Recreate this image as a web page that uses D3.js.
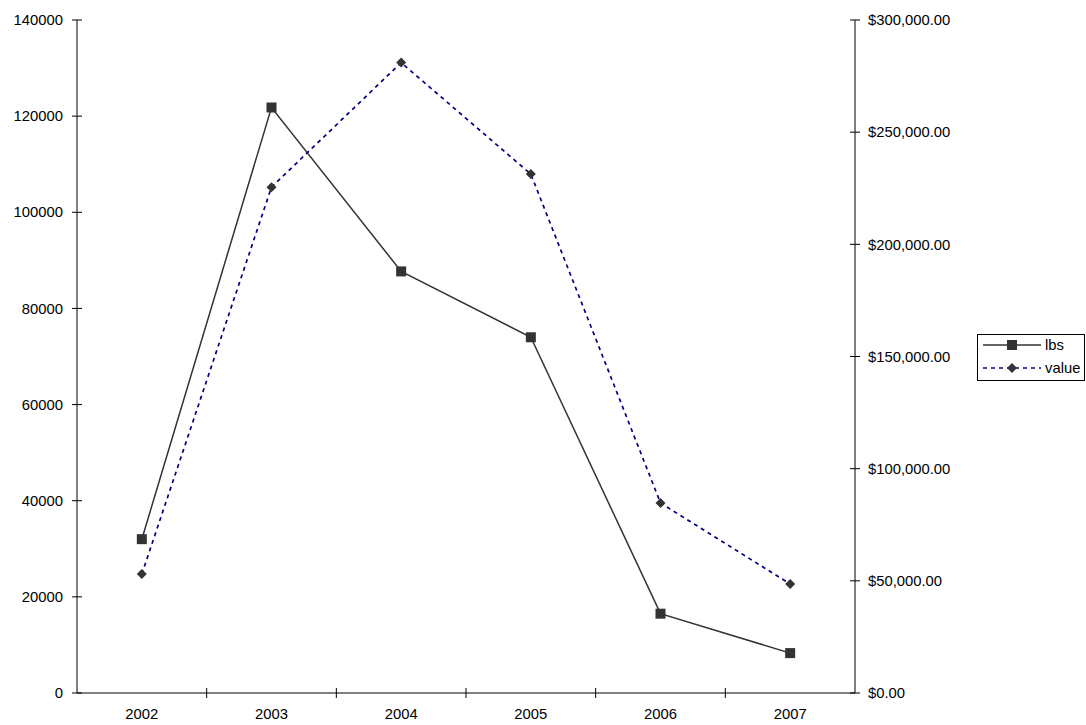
<!DOCTYPE html>
<html><head><meta charset="utf-8">
<script src="https://cdn.jsdelivr.net/npm/d3@7"></script>
<style>body{margin:0;background:#fff}svg{display:block}text{font-family:"Liberation Sans",Arial,sans-serif;font-size:14.8px;fill:#000}</style>
</head><body>
<svg id="c" width="1086" height="725"></svg>
<script>
const years = ["2002","2003","2004","2005","2006","2007"];
const lbs = [32000, 121800, 87700, 74000, 16500, 8300];
const value = [53000, 225500, 281000, 231300, 84700, 48600];
const leftTicks = [0,20000,40000,60000,80000,100000,120000,140000];
const rightTicks = [0,50000,100000,150000,200000,250000,300000];

const svg = d3.select("#c");
const L = 77, R = 855, T = 20, B = 693;
const x = d3.scaleBand().domain(years).range([L, R]);
const yL = d3.scaleLinear().domain([0,140000]).range([B, T]);
const yR = d3.scaleLinear().domain([0,300000]).range([B, T]);
const cx = d => x(d) + x.bandwidth()/2;

// left axis
const gl = svg.append("g").attr("transform",`translate(${L},0)`);
gl.append("line").attr("y1",T).attr("y2",B).attr("stroke","#000");
leftTicks.forEach(t=>{
  gl.append("line").attr("x1",-5).attr("x2",5).attr("y1",yL(t)).attr("y2",yL(t)).attr("stroke","#000");
  gl.append("text").attr("x",-14).attr("y",yL(t)).attr("dy","0.35em").attr("text-anchor","end").text(t);
});
// right axis
const gr = svg.append("g").attr("transform",`translate(${R},0)`);
gr.append("line").attr("y1",T).attr("y2",B).attr("stroke","#000");
const fmt = d3.format("$,.2f");
rightTicks.forEach(t=>{
  gr.append("line").attr("x1",-5).attr("x2",5).attr("y1",yR(t)).attr("y2",yR(t)).attr("stroke","#000");
  gr.append("text").attr("x",13).attr("y",yR(t)).attr("dy","0.35em").attr("text-anchor","start").text(fmt(t));
});
// bottom axis
const gb = svg.append("g");
gb.append("line").attr("x1",L).attr("x2",R).attr("y1",B).attr("y2",B).attr("stroke","#000");
years.forEach((yv,i)=>{
  if(i>0) gb.append("line").attr("x1",x(yv)).attr("x2",x(yv)).attr("y1",B-5).attr("y2",B+5).attr("stroke","#000");
  gb.append("text").attr("x",cx(yv)).attr("y",B+26).attr("text-anchor","middle").text(yv);
});

// lbs line
const lineL = d3.line().x((d,i)=>cx(years[i])).y(d=>yL(d));
svg.append("path").attr("d",lineL(lbs)).attr("fill","none").attr("stroke","#333").attr("stroke-width",1.5);
svg.selectAll(".sq").data(lbs).join("rect")
  .attr("x",(d,i)=>cx(years[i])-5).attr("y",d=>yL(d)-5).attr("width",10).attr("height",10).attr("fill","#333");

// value line
const lineR = d3.line().x((d,i)=>cx(years[i])).y(d=>yR(d));
svg.append("path").attr("d",lineR(value)).attr("fill","none").attr("stroke","#000080").attr("stroke-width",1.7).attr("stroke-dasharray","4,4");
const diaPath = "M0,-5L5,0L0,5L-5,0Z";
svg.selectAll(".dm").data(value).join("path")
  .attr("d",diaPath).attr("transform",(d,i)=>`translate(${cx(years[i])},${yR(d)})`).attr("fill","#333");

// legend
const lg = svg.append("g");
lg.append("rect").attr("x",977.5).attr("y",334.5).attr("width",107).attr("height",46).attr("fill","#fff").attr("stroke","#000");
lg.append("line").attr("x1",983).attr("x2",1041).attr("y1",345).attr("y2",345).attr("stroke","#333").attr("stroke-width",1.5);
lg.append("rect").attr("x",1007).attr("y",340).attr("width",10).attr("height",10).attr("fill","#333");
lg.append("text").attr("x",1045).attr("y",345).attr("dy","0.35em").text("lbs");
lg.append("line").attr("x1",983).attr("x2",1041).attr("y1",368).attr("y2",368).attr("stroke","#000080").attr("stroke-width",1.7).attr("stroke-dasharray","4,4");
lg.append("path").attr("d",diaPath).attr("transform","translate(1012,368)").attr("fill","#333");
lg.append("text").attr("x",1045).attr("y",368).attr("dy","0.35em").text("value");
</script>
</body></html>
